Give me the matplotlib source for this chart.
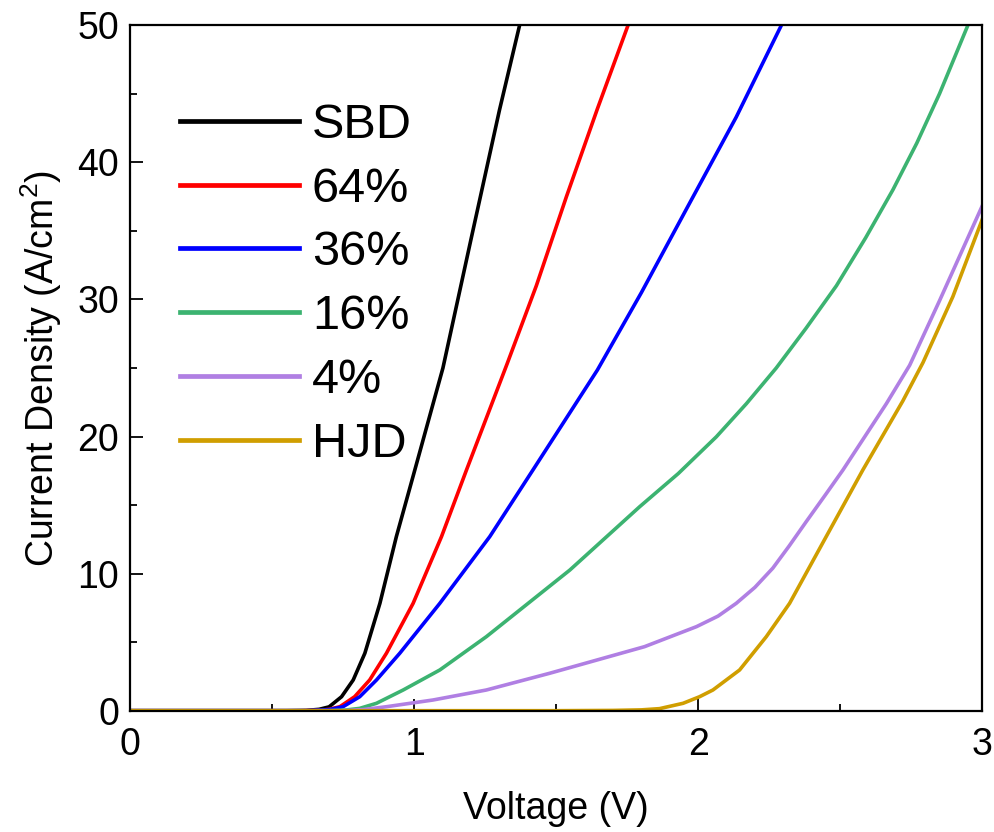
import numpy as np
import matplotlib
matplotlib.use("Agg")
import matplotlib.pyplot as plt
from matplotlib.ticker import MultipleLocator

plt.rcParams['font.family'] = ['Liberation Sans', 'DejaVu Sans']
plt.rcParams['mathtext.fontset'] = 'custom'
plt.rcParams['mathtext.rm'] = 'Liberation Sans'

# ----------------------------
# data (V in volts, J in A/cm^2)
# ----------------------------
labels = ["SBD", "64%", "36%", "16%", "4%", "HJD"]
colors = ["#000000", "#ff0000", "#0000ff", "#3cb371", "#b07fe3", "#d09e00"]

v_sbd = [0, 0.55, 0.62, 0.665, 0.70, 0.744, 0.785, 0.826, 0.879, 0.937, 1.002, 1.101, 1.2, 1.3, 1.371]
j_sbd = [0, 0, 0.02, 0.1, 0.28, 1.02, 2.24, 4.19, 7.83, 12.7, 17.56, 25.0, 34.4, 43.8, 50]

v_64 = [0, 0.6, 0.67, 0.70, 0.738, 0.790, 0.843, 0.902, 0.996, 1.096, 1.184, 1.327, 1.43, 1.536, 1.645, 1.753]
j_64 = [0, 0, 0.03, 0.1, 0.29, 1.02, 2.24, 4.19, 7.83, 12.7, 17.56, 25.3, 31.0, 37.5, 43.9, 50]

v_36 = [0, 0.62, 0.70, 0.749, 0.808, 0.867, 0.949, 1.090, 1.266, 1.418, 1.645, 1.80, 1.964, 2.134, 2.293]
j_36 = [0, 0, 0.08, 0.29, 1.02, 2.24, 4.19, 7.83, 12.7, 17.56, 24.85, 30.5, 36.8, 43.3, 50]

v_16 = [0, 0.70, 0.76, 0.808, 0.867, 0.961, 1.090, 1.254, 1.548, 1.794, 1.93, 2.064, 2.17, 2.275, 2.38, 2.487, 2.59, 2.686, 2.77, 2.850, 2.95]
j_16 = [0, 0, 0.05, 0.17, 0.54, 1.51, 2.97, 5.4, 10.26, 14.88, 17.3, 19.98, 22.4, 25.0, 27.9, 31.0, 34.5, 38.0, 41.4, 45.0, 50]

v_4 = [0, 0.75, 0.82, 0.902, 1.066, 1.254, 1.477, 1.811, 1.994, 2.07, 2.134, 2.2, 2.263, 2.32, 2.381, 2.45, 2.51, 2.663, 2.745, 2.85, 3.0]
j_4 = [0, 0, 0.08, 0.29, 0.78, 1.51, 2.73, 4.67, 6.13, 6.9, 7.83, 9.0, 10.4, 12.0, 13.8, 15.8, 17.56, 22.4, 25.2, 29.9, 36.8]

v_hjd = [0, 1.5, 1.7, 1.80, 1.864, 1.947, 2.005, 2.052, 2.146, 2.240, 2.322, 2.451, 2.580, 2.721, 2.792, 2.897, 3.0]
j_hjd = [0, 0, 0.02, 0.06, 0.15, 0.54, 1.02, 1.51, 2.97, 5.4, 7.83, 12.7, 17.56, 22.6, 25.4, 30.2, 35.8]

series = [(v_sbd, j_sbd), (v_64, j_64), (v_36, j_36), (v_16, j_16), (v_4, j_4), (v_hjd, j_hjd)]

# ----------------------------
# plot
# ----------------------------
fig = plt.figure(figsize=(9.95, 8.32), dpi=100)
ax = fig.add_axes([0.131, 0.1458, 0.856, 0.8238])

for (v, j), lab, c in zip(series, labels, colors):
    ax.plot(v, j, color=c, lw=2.6, label=lab, solid_joinstyle='round')

ax.set_xlim(0, 3)
ax.set_ylim(0, 50)
ax.xaxis.set_major_locator(MultipleLocator(1))
ax.xaxis.set_minor_locator(MultipleLocator(0.5))
ax.yaxis.set_major_locator(MultipleLocator(10))
ax.yaxis.set_minor_locator(MultipleLocator(5))
ax.tick_params(which='both', direction='in', width=1.3, labelsize=27, pad=8)
ax.tick_params(axis='x', which='major', pad=12)
ax.tick_params(which='major', length=9)
ax.tick_params(which='minor', length=5)
for s in ax.spines.values():
    s.set_linewidth(1.6)

ax.set_xlabel("Voltage (V)", fontsize=27, labelpad=20)
ax.set_ylabel("Current Density (A/cm$^2$)", fontsize=27, labelpad=10)

leg = ax.legend(loc='upper left', bbox_to_anchor=(0.035, 0.915), frameon=False,
                fontsize=35, handlelength=2.45, handletextpad=0.27,
                labelspacing=0.385, borderaxespad=0)
for line in leg.get_lines():
    line.set_linewidth(3.4)

fig.savefig("out.png", dpi=100)
